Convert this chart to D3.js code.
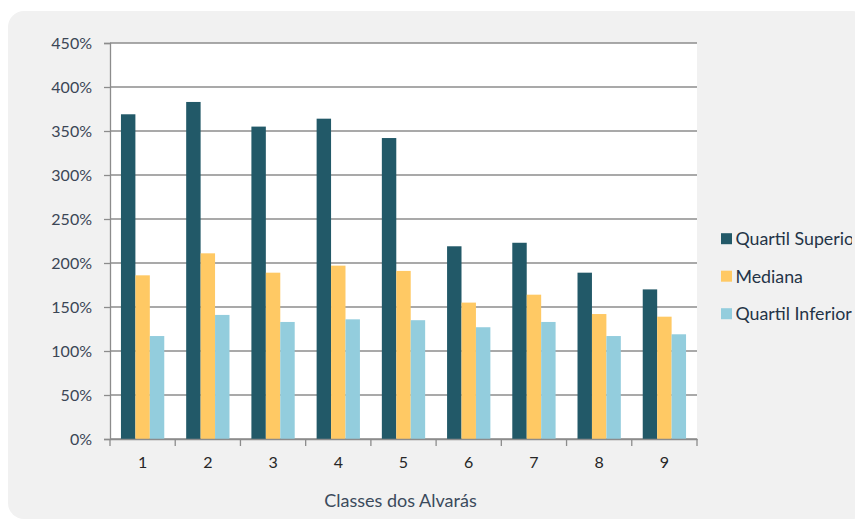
<!DOCTYPE html>
<html>
<head>
<meta charset="utf-8">
<script src="https://cdn.jsdelivr.net/npm/d3@7"></script>
<style>
  html, body { margin: 0; padding: 0; background: #ffffff; }
  svg { display: block; font-family: Lato, "Open Sans", sans-serif; }
</style>
</head>
<body>
<svg id="chart" width="855" height="521"></svg>
<script>
// Classes of permits (1..9) and the quartile/median percentages per class
const categories = ["1", "2", "3", "4", "5", "6", "7", "8", "9"];
const seriesNames = ["Quartil Superior", "Mediana", "Quartil Inferior"];
const quartilSuperior = [369, 383, 355, 364, 342, 219, 223, 189, 170];
const mediana = [186, 211, 189, 197, 191, 155, 164, 142, 139];
const quartilInferior = [117, 141, 133, 136, 135, 127, 133, 117, 119];
const yTicks = [0, 50, 100, 150, 200, 250, 300, 350, 400, 450];
const seriesColors = ["#225968", "#FFC964", "#93CDDD"];
const xTitle = "Classes dos Alvarás";

const seriesValues = [quartilSuperior, mediana, quartilInferior];

const svg = d3.select("#chart");

// grey chart panel
svg.append("rect")
  .attr("x", 8).attr("y", 11)
  .attr("width", 860).attr("height", 508)
  .attr("rx", 16).attr("ry", 16)
  .attr("fill", "#f1f1f1");

const plot = { left: 110, right: 697, top: 43, bottom: 439 };

// white plotting area
svg.append("rect")
  .attr("x", plot.left).attr("y", plot.top)
  .attr("width", plot.right - plot.left).attr("height", plot.bottom - plot.top)
  .attr("fill", "#ffffff");

const x = d3.scaleBand()
  .domain(categories)
  .range([plot.left, plot.right])
  .paddingInner(0.336)
  .paddingOuter(0.168);

const xs = d3.scaleBand()
  .domain(seriesNames)
  .range([0, x.bandwidth()]);

const y = d3.scaleLinear()
  .domain([0, 450])
  .range([plot.bottom, plot.top]);

// horizontal gridlines
svg.append("g")
  .selectAll("line")
  .data(yTicks)
  .join("line")
  .attr("x1", plot.left).attr("x2", plot.right)
  .attr("y1", d => y(d)).attr("y2", d => y(d))
  .attr("stroke", "#8c8c8c")
  .attr("stroke-width", 1.3);

// bars
const groups = svg.append("g")
  .selectAll("g")
  .data(categories)
  .join("g")
  .attr("transform", d => `translate(${x(d)},0)`);

groups.selectAll("rect")
  .data((c, i) => seriesNames.map((s, k) => ({ s, k, v: seriesValues[k][i] })))
  .join("rect")
  .attr("x", d => xs(d.s))
  .attr("width", xs.bandwidth())
  .attr("y", d => y(d.v))
  .attr("height", d => y(0) - y(d.v))
  .attr("fill", d => seriesColors[d.k]);

// y axis
const yAxis = svg.append("g")
  .attr("transform", `translate(${plot.left},0)`)
  .call(d3.axisLeft(y).tickValues(yTicks).tickFormat(d => d + "%").tickSize(6).tickPadding(12));
yAxis.select(".domain").attr("stroke", "#8c8c8c").attr("stroke-width", 1.3);
yAxis.selectAll(".tick line").attr("stroke", "#8c8c8c").attr("stroke-width", 1.3);
yAxis.selectAll(".tick text")
  .attr("font-size", 16)
  .attr("fill", "#3b4656")
  .style("font-family", "Lato, 'Open Sans', sans-serif");

// x axis: labels centred in each band, tick marks on band boundaries
const xAxis = svg.append("g")
  .attr("transform", `translate(0,${plot.bottom})`)
  .call(d3.axisBottom(x).tickSize(0).tickPadding(18));
xAxis.select(".domain").attr("stroke", "#8c8c8c").attr("stroke-width", 1.3);
xAxis.selectAll(".tick text")
  .attr("font-size", 16)
  .attr("fill", "#262626")
  .style("font-family", "Lato, 'Open Sans', sans-serif");

const boundaries = d3.range(categories.length + 1).map(i => plot.left + i * x.step());
xAxis.selectAll(".bound")
  .data(boundaries)
  .join("line")
  .attr("class", "bound")
  .attr("x1", d => d).attr("x2", d => d)
  .attr("y1", 0).attr("y2", 7)
  .attr("stroke", "#8c8c8c")
  .attr("stroke-width", 1.3);

// x axis title
svg.append("text")
  .attr("x", (plot.left + plot.right) / 2 - 3)
  .attr("y", 507)
  .attr("text-anchor", "middle")
  .attr("font-size", 18)
  .attr("fill", "#3b4a5c")
  .text(xTitle);

// legend, clipped at the panel's right edge
svg.append("clipPath").attr("id", "legend-clip")
  .append("rect").attr("x", 700).attr("y", 200).attr("width", 152).attr("height", 150);

const legend = svg.append("g").attr("clip-path", "url(#legend-clip)");
const legendItems = legend.selectAll("g")
  .data(seriesNames)
  .join("g")
  .attr("transform", (d, i) => `translate(721,${238.7 + i * 37.5})`);

legendItems.append("rect")
  .attr("x", 0).attr("y", -5.5)
  .attr("width", 11).attr("height", 11)
  .attr("fill", (d, i) => seriesColors[i]);

legendItems.append("text")
  .attr("x", 14.5).attr("y", 0)
  .attr("dy", "0.36em")
  .attr("font-size", 17.8)
  .attr("fill", "#243447")
  .text(d => d);
</script>
</body>
</html>
